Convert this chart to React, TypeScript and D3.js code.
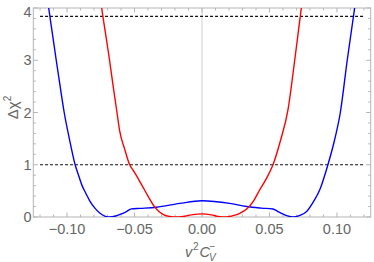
import * as d3 from 'd3';
import React, { useRef, useEffect } from 'react';

// blue curve (x, delta chi^2)
const blueX = [-0.117, -0.1136, -0.1108, -0.108, -0.1051, -0.1021, -0.0983, -0.094, -0.0915, -0.089, -0.086, -0.0832, -0.0795, -0.0758, -0.072, -0.0684, -0.064, -0.0597, -0.056, -0.0523, -0.046, -0.0338, -0.0165, 0, 0.0205, 0.0329, 0.044, 0.0526, 0.056, 0.0598, 0.0635, 0.0674, 0.0725, 0.0773, 0.0825, 0.0872, 0.0933, 0.098, 0.1025, 0.1076, 0.1131, 0.116];
const blueY = [4.6, 4.0, 3.5, 3.0, 2.5, 2.0, 1.5, 1.0, 0.8, 0.61, 0.45, 0.31, 0.175, 0.075, 0.018, 0.0, 0.02, 0.06, 0.105, 0.155, 0.165, 0.186, 0.26, 0.31, 0.26, 0.2, 0.17, 0.153, 0.11, 0.06, 0.02, 0.0, 0.03, 0.1, 0.29, 0.517, 1.0, 1.45, 2.0, 3.0, 4.0, 4.5];

// red curve
const redX = [-0.0765, -0.0743, -0.0714, -0.0685, -0.0658, -0.063, -0.061, -0.0573, -0.0536, -0.0517, -0.0499, -0.0449, -0.04, -0.035, -0.0289, -0.024, -0.0195, -0.014, -0.008, 0, 0.007, 0.0131, 0.018, 0.023, 0.028, 0.0329, 0.038, 0.0427, 0.048, 0.0526, 0.058, 0.0637, 0.0687, 0.0736, 0.076];
const redY = [4.5, 4.0, 3.5, 3.0, 2.5, 2.0, 1.65, 1.3, 1.0, 0.92, 0.85, 0.625, 0.4, 0.19, 0.05, 0.01, 0.0, 0.01, 0.04, 0.06, 0.04, 0.005, 0.0, 0.025, 0.07, 0.147, 0.3, 0.517, 0.75, 1.0, 1.45, 2.05, 3.0, 4.0, 4.5];

// reference levels
const levels = [1, 3.84];

const xTicks = [-0.1, -0.05, 0, 0.05, 0.1];
const xTickLabels = ['\u22120.10', '\u22120.05', '0.00', '0.05', '0.10'];
const yTicks = [0, 1, 2, 3, 4];
const yTickLabels = ['0', '1', '2', '3', '4'];

export default function App() {
  const svgRef = useRef(null);
  const width = 374, height = 262;

  useEffect(() => {
    if (!svgRef.current) return;
    const svg = d3.select(svgRef.current);
    svg.selectAll('*').remove();

    const left = 33.3, right = 370.7, top = 8, bottom = 217;
    const x = d3.scaleLinear().domain([-0.125, 0.125]).range([left, right]);
    const y = d3.scaleLinear().domain([0, 4]).range([bottom, top]);
    const frameColor = '#b5b5b5';
    const labelColor = '#666';

    svg.append('defs').append('clipPath').attr('id', 'plotclip')
      .append('rect').attr('x', left).attr('y', top)
      .attr('width', right - left).attr('height', bottom - top);

    // axis at x = 0
    svg.append('line')
      .attr('x1', x(0)).attr('x2', x(0)).attr('y1', top).attr('y2', bottom)
      .attr('stroke', '#d0d0d0').attr('stroke-width', 1);

    // frame
    svg.append('rect')
      .attr('x', left).attr('y', top).attr('width', right - left).attr('height', bottom - top)
      .attr('fill', 'none').attr('stroke', frameColor).attr('stroke-width', 1);

    // ticks (inward, all four sides)
    const xMinor = d3.range(-12, 13).map(i => i / 100);
    const yMinor = d3.range(0, 21).map(i => i / 5);
    const g = svg.append('g').attr('stroke', frameColor).attr('stroke-width', 1);
    xMinor.forEach(t => {
      const major = xTicks.some(m => Math.abs(m - t) < 1e-9);
      const len = major ? 4.5 : 2.5;
      g.append('line').attr('x1', x(t)).attr('x2', x(t)).attr('y1', bottom).attr('y2', bottom - len);
      g.append('line').attr('x1', x(t)).attr('x2', x(t)).attr('y1', top).attr('y2', top + len);
    });
    yMinor.forEach(t => {
      const major = yTicks.some(m => Math.abs(m - t) < 1e-9);
      const len = major ? 4.5 : 2.5;
      g.append('line').attr('x1', left).attr('x2', left + len).attr('y1', y(t)).attr('y2', y(t));
      g.append('line').attr('x1', right).attr('x2', right - len).attr('y1', y(t)).attr('y2', y(t));
    });

    // tick labels
    svg.append('g').selectAll('text').data(xTicks).enter().append('text')
      .attr('x', d => x(d)).attr('y', 233.5)
      .attr('text-anchor', 'middle')
      .attr('font-family', 'Liberation Sans, Arial, sans-serif').attr('font-size', 14.5)
      .attr('fill', labelColor)
      .text((d, i) => xTickLabels[i]);

    svg.append('g').selectAll('text').data(yTicks).enter().append('text')
      .attr('x', 31.5).attr('y', d => d === 4 ? 16.8 : y(d) + 5.2)
      .attr('text-anchor', 'end')
      .attr('font-family', 'Liberation Sans, Arial, sans-serif').attr('font-size', 14.5)
      .attr('fill', labelColor)
      .text((d, i) => yTickLabels[i]);

    const plot = svg.append('g').attr('clip-path', 'url(#plotclip)');

    // dashed reference lines
    plot.selectAll('line.lvl').data(levels).enter().append('line')
      .attr('class', 'lvl')
      .attr('x1', x(-0.12)).attr('x2', x(0.12))
      .attr('y1', d => y(d)).attr('y2', d => y(d))
      .attr('stroke', '#111').attr('stroke-width', 1.1).attr('stroke-dasharray', '3,2');

    const line = d3.line<[number, number]>()
      .x(d => x(d[0])).y(d => y(d[1]))
      .curve(d3.curveMonotoneX);

    const blue: [number, number][] = blueX.map((v, i) => [v, blueY[i]]);
    const red: [number, number][] = redX.map((v, i) => [v, redY[i]]);

    plot.append('path').attr('d', line(blue)!)
      .attr('fill', 'none').attr('stroke', '#0000ff').attr('stroke-width', 1.4);
    plot.append('path').attr('d', line(red)!)
      .attr('fill', 'none').attr('stroke', '#ff0000').attr('stroke-width', 1.4);

    // y axis label
    const yl = svg.append('text')
      .attr('transform', 'translate(18,107.5) rotate(-90)')
      .attr('text-anchor', 'middle')
      .attr('font-family', 'Liberation Sans, Arial, sans-serif').attr('font-size', 15)
      .attr('fill', labelColor);
    yl.append('tspan').text('\u0394\u03c7');
    yl.append('tspan').attr('font-size', 10).attr('dy', -7).text('2');

    // x axis label
    const xl = svg.append('g')
      .attr('font-family', 'Liberation Sans, Arial, sans-serif')
      .attr('font-style', 'italic').attr('fill', labelColor);
    xl.append('text').attr('x', 185).attr('y', 256.5).attr('font-size', 14.5).text('v');
    xl.append('text').attr('x', 193).attr('y', 250).attr('font-size', 10).attr('font-style', 'normal').text('2');
    xl.append('text').attr('x', 199.5).attr('y', 256.5).attr('font-size', 14.5).text('C');
    xl.append('text').attr('x', 209).attr('y', 261).attr('font-size', 10).text('V');
    xl.append('text').attr('x', 209.5).attr('y', 250).attr('font-size', 10).attr('font-style', 'normal').text('\u2212');
  }, []);

  return (
    <svg ref={svgRef} width={width} height={height}
      style={{ position: 'absolute', left: 0, top: 0, background: '#fff' }} />
  );
}
